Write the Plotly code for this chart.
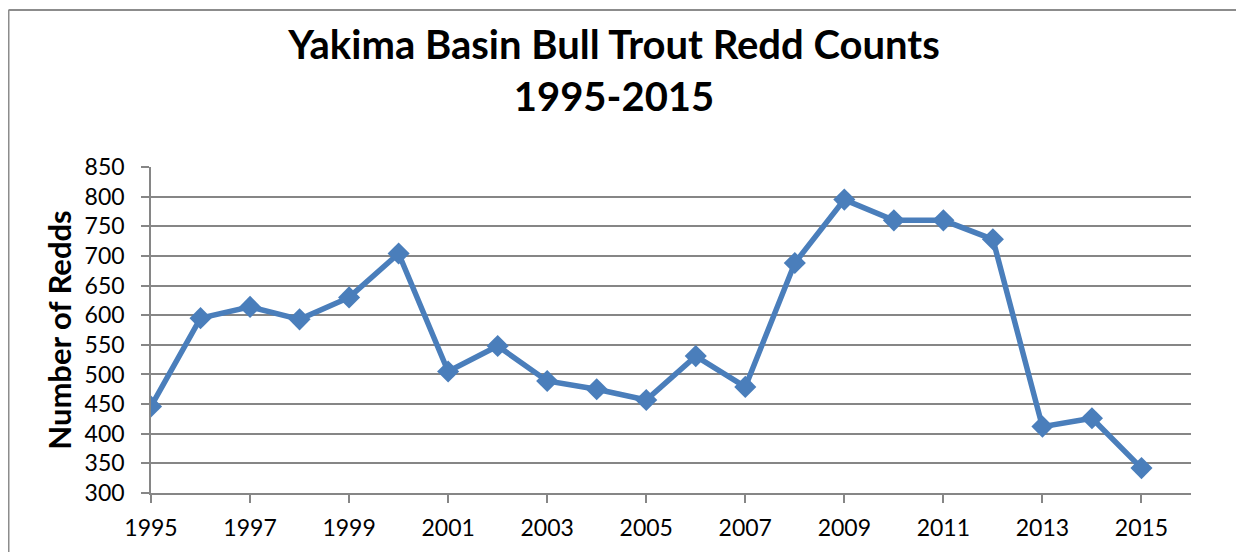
import plotly.graph_objects as go

years = list(range(1995, 2016))
redds = [446, 595, 614, 593, 630, 704, 505, 548, 489, 475, 457,
         531, 479, 688, 795, 760, 760, 728, 412, 426, 342]
x_tick_vals = list(range(1995, 2016, 2))
y_tick_vals = list(range(300, 851, 50))

title_text = "Yakima Basin Bull Trout Redd Counts<br>1995-2015"
y_title = "Number of Redds"

FONT = "Lato, Open Sans, sans-serif"

fig = go.Figure()
fig.add_trace(go.Scatter(
    x=years, y=redds, mode="lines+markers",
    line=dict(color="#4A7EBB", width=5.5),
    marker=dict(symbol="diamond", size=17, color="#4A7EBB"),
    showlegend=False, hoverinfo="x+y",
))

# page body has an 8px margin; figure coordinates are offset by it
OFF = 8
W, H = 1244 - OFF, 552 - OFF
L, R, T, B = 151 - OFF, 53, 166.5 - OFF, 58.5
pw, ph = W - L - R, H - T - B

fig.update_layout(
    template="none",
    width=W, height=H,
    margin=dict(l=L, r=R, t=T, b=B, pad=0, autoexpand=False),
    paper_bgcolor="white", plot_bgcolor="white",
    font=dict(family=FONT, color="black"),
    title=dict(text=title_text, x=(614 - OFF - L) / pw, xref="paper", xanchor="center",
               y=1 - (59 - OFF) / H, yanchor="middle",
               font=dict(family=FONT, size=40, color="black", weight="bold")),
    xaxis=dict(range=[1995, 2016], tickvals=x_tick_vals, showgrid=False,
               automargin=False,
               showline=True, linecolor="#868686", linewidth=1.5,
               ticks="outside", ticklen=8, tickcolor="#868686", tickwidth=1.5,
               ticklabelstandoff=6,
               tickfont=dict(size=23, family=FONT, color="black"),
               zeroline=False),
    yaxis=dict(range=[300, 850], tickvals=y_tick_vals, showgrid=True,
               automargin=False,
               gridcolor="#868686", gridwidth=1.5,
               showline=True, linecolor="#868686", linewidth=1.5,
               ticks="outside", ticklen=8, tickcolor="#868686", tickwidth=1.5,
               ticklabelstandoff=12,
               tickfont=dict(size=23, family=FONT, color="black"),
               zeroline=False,
               title=dict(text=y_title, standoff=4,
                          font=dict(size=31, family=FONT, weight="bold", color="black"))),
)

# outer chart border (left and top visible)
x0 = (0.5 - L) / pw
y1 = (H - B - (9 - OFF)) / ph
fig.add_shape(type="line", xref="paper", yref="paper", x0=x0, x1=(W + 5 - L) / pw,
              y0=y1, y1=y1, line=dict(color="#8C8C8C", width=2))
fig.add_shape(type="line", xref="paper", yref="paper", x0=x0, x1=x0,
              y0=y1, y1=-(B + 5) / ph, line=dict(color="#8C8C8C", width=2))

fig.write_html("out.html")
